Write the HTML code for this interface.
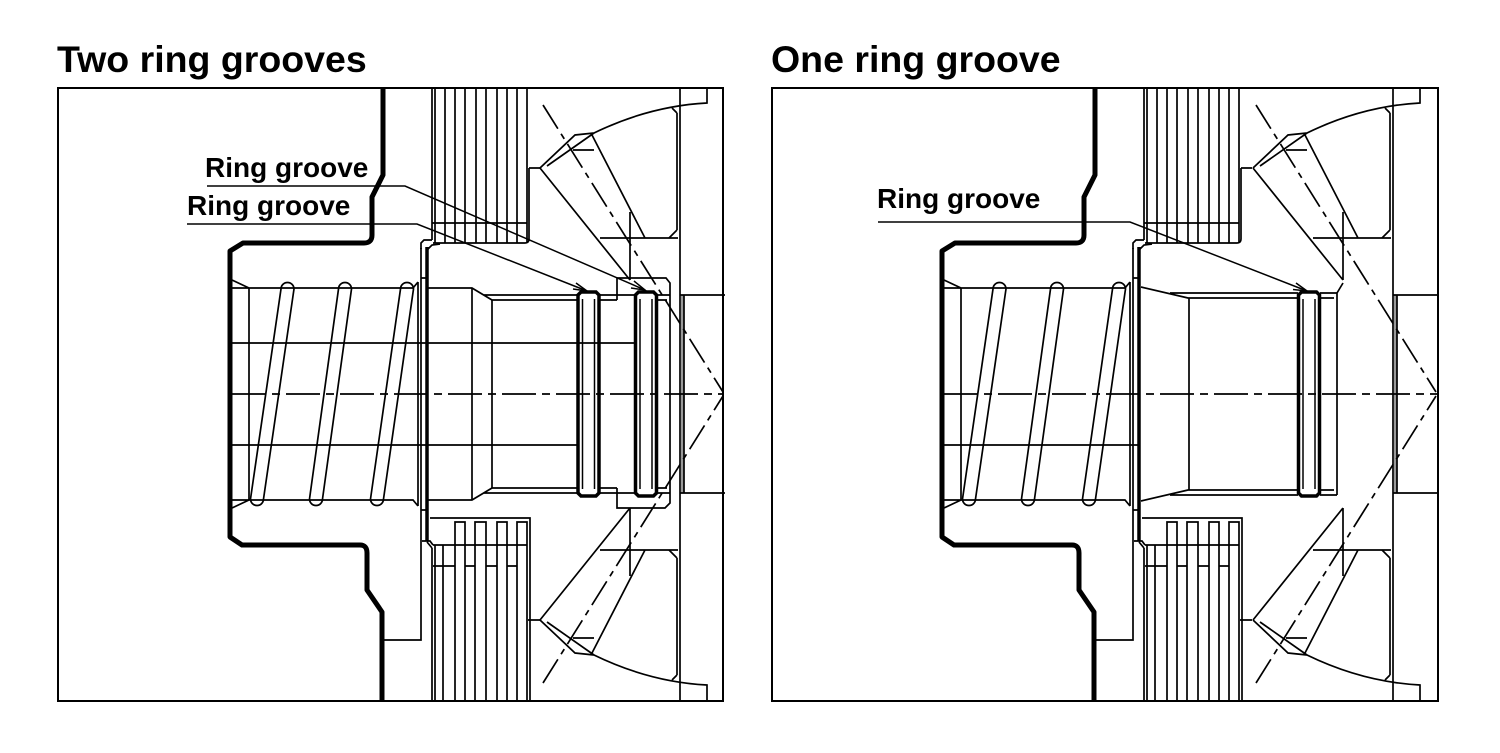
<!DOCTYPE html>
<html><head><meta charset="utf-8"><style>
html,body{margin:0;padding:0;background:#fff;}
svg{display:block;}
text{font-family:"Liberation Sans",Arial,sans-serif;font-weight:bold;fill:#000;}
</style></head><body>
<svg width="1500" height="753" viewBox="0 0 1500 753" xmlns="http://www.w3.org/2000/svg">
<defs>
<g id="common" fill="none" stroke="#000" stroke-width="1.7">
  <path d="M383,88 L383,175 L372,197 L372,235 Q372,243 364,243 L243,243 L230,251 L230,537 L242,545 L360,545 Q367,545 367,553 L367,590 L382,612 L382,701" stroke-width="5" stroke-linejoin="round"/>
  <path d="M232,280 L249,288 M232,288 L413,288 L418,282 M249,288 L249,500 M232,508 L249,500 M232,500 L413,500 L418,506 M418,282 L418,506 M230,445 L427,445"/>
  <path d="M281,289 L250.5,499 A6.5,6.5 0 0 0 263.5,499 L294,289 A6.5,6.5 0 0 0 281,289 Z"/>
  <path d="M338.5,289 L309.5,499 A6.5,6.5 0 0 0 322.5,499 L351.5,289 A6.5,6.5 0 0 0 338.5,289 Z"/>
  <path d="M400.5,289 L370.5,499 A6.5,6.5 0 0 0 383.5,499 L413.5,289 A6.5,6.5 0 0 0 400.5,289 Z"/>
  <path d="M427,247 L427,541" stroke-width="3.5"/>
  <path d="M421,248 L421,640 L384,640 M421,278 L427,278 M421,510 L427,510"/>
  <path d="M421,249 L421,243 L424,240 L432,240 M427,250 L432,245 L440,244"/>
  <path d="M422,541 L430,541 L433,545 M427,542 L432,548"/>
  <path d="M432,88 L432,240 M435,88 L435,243 M445,88 L445,243 M455,88 L455,243 M465,88 L465,243 M476,88 L476,243 M486,88 L486,243 M497,88 L497,243 M507,88 L507,243 M517,88 L517,243 M527,88 L527,243"/>
  <path d="M529,168 L529,239 Q529,243 525,243 L433,243 M432,223 L527,223 M529,168 L540,168"/>
  <path d="M430,518 L530,518 L530,701 M528,620 L540,620 M433,545 L527,545"/>
  <path d="M432,548 L432,701 M435,545 L435,701 M443,545 L443,701"/>
  <path d="M455,701 L455,522 L465,522 L465,701 M475,701 L475,522 L486,522 L486,701 M497,701 L497,522 L507,522 L507,701 M517,701 L517,522 L527,522 L527,701"/>
  <path d="M433,566 L455,566 M465,566 L475,566 M486,566 L497,566 M507,566 L517,566"/>
</g>
<g id="cone" fill="none" stroke="#000" stroke-width="1.7">
  <path d="M707,88 L707,103 Q649.5,106 594,133 M540,168 L575,135 L594,133 M547,166 L594,133 M573,150 L594,150"/>
  <path d="M540,168 L630,280 M592,135 L645,238 M600,238 L678,238 M630,212 L630,280"/>
  <path d="M707,701 L707,685 Q649.5,682 594,655 M540,620 L575,653 L594,655 M547,622 L594,655 M573,638 L594,638"/>
  <path d="M540,620 L630,508 M592,653 L645,550 M600,550 L678,550 M630,508 L630,576"/>
  <path d="M680,88 L680,701 M677,113 L677,230 M672,108 L677,113 M677,230 L669,238 M677,558 L677,675 M669,550 L677,558 M677,675 L672,680"/>
  <rect x="681" y="295" width="3" height="198" fill="#9a9a9a" stroke="none"/>
  <path d="M680,295 L725,295 M680,493 L725,493 M684,295 L684,493"/>
  <path d="M543,105 L723,392 M543,683 L723,396" stroke-dasharray="28 6 6 6"/>
</g>
<g id="groove" fill="none" stroke="#000">
  <path d="M0,299 L0,295 L3,292 L18,292 L21,295 L21,493 L18,496 L3,496 L0,493 Z" stroke-width="3.5"/>
  <path d="M4.5,299 L4.5,489 M16.5,299 L16.5,489" stroke-width="1.5"/>
</g>
</defs>

<!-- Titles -->
<text x="57" y="72" font-size="37.5">Two ring grooves</text>
<text x="771" y="72" font-size="37.5">One ring groove</text>

<!-- Frames -->
<rect x="58" y="88" width="665" height="613" fill="none" stroke="#000" stroke-width="2"/>
<rect x="772" y="88" width="666" height="613" fill="none" stroke="#000" stroke-width="2"/>

<!-- LEFT PANEL -->
<use href="#common"/>
<use href="#cone"/>
<g fill="none" stroke="#000" stroke-width="1.7">
  <path d="M427,288 L472,288 L492,300 L578,300 M484,295 L578,295 M427,500 L472,500 L492,488 L578,488 M484,493 L578,493"/>
  <path d="M472,288 L472,500 M492,300 L492,488"/>
  <path d="M230,343 L634,343 M427,445 L578,445"/>
  <path d="M599,295 L635,295 M599,300 L617,300 M599,493 L635,493 M599,488 L617,488"/>
  <path d="M617,300 L617,278 L666,278 L670,283 L670,503 L665,508 L617,508 L617,488"/>
  <path d="M656,295 L670,295 M656,300 L667,300 M656,493 L670,493 M656,488 L667,488"/>
  <path d="M232,394 L723,394" stroke-dasharray="34 6 8 6"/>
</g>
<use href="#groove" transform="translate(578,0)"/>
<use href="#groove" transform="translate(635.5,0)"/>
<!-- left leaders -->
<g fill="none" stroke="#000" stroke-width="1.5">
  <path d="M207,186 L405,186 L645,290"/>
  <path d="M634,281 L645,290 L631,288"/>
  <path d="M187,224 L417,224 L587,291"/>
  <path d="M576,283 L587,291 L573,289"/>
</g>
<text x="205" y="177" font-size="28">Ring groove</text>
<text x="187" y="215" font-size="28">Ring groove</text>

<!-- RIGHT PANEL -->
<use href="#common" transform="translate(712,0)"/>
<use href="#cone" transform="translate(713,0)"/>
<g fill="none" stroke="#000" stroke-width="1.7">
  <path d="M1141,287 L1188,298 L1298,298 M1170,293 L1298,293 M1320,293 L1337,293 M1320,298 L1334,298"/>
  <path d="M1141,501 L1188,490 L1298,490 M1170,495 L1298,495 M1320,495 L1337,495 M1320,490 L1334,490"/>
  <path d="M1189,298 L1189,490 M1337,293 L1337,495 M1337,293 L1343,283"/>
  <path d="M944,394 L1438,394" stroke-dasharray="34 6 8 6"/>
</g>
<use href="#groove" transform="translate(1298.5,0)"/>
<g fill="none" stroke="#000" stroke-width="1.5">
  <path d="M878,222 L1130,222 L1307,291"/>
  <path d="M1296,283 L1307,291 L1293,289.5"/>
</g>
<text x="877" y="208" font-size="28">Ring groove</text>
</svg>
</body></html>
